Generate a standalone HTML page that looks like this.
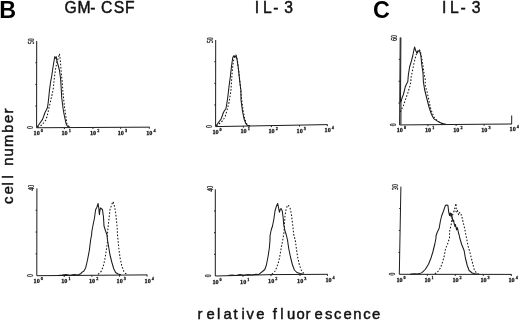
<!DOCTYPE html>
<html><head><meta charset="utf-8"><title>Figure</title>
<style>
html,body{margin:0;padding:0;background:#fff;}
body{width:520px;height:320px;overflow:hidden;position:relative;font-family:"Liberation Sans",sans-serif;color:#111;}
svg{position:absolute;left:0;top:0;display:block;}
.ax{stroke:#1c1c1c;stroke-width:1;fill:none;}
.so{stroke:#1a1a1a;stroke-width:1.05;fill:none;stroke-linejoin:round;}
.da{stroke:#1a1a1a;stroke-width:1.05;fill:none;stroke-dasharray:1.6 1.7;stroke-linejoin:round;}
.tk{font-family:"Liberation Serif",serif;font-weight:bold;font-size:7px;fill:#1a1a1a;stroke:#1a1a1a;stroke-width:0.3;}
.tr{font-weight:normal;stroke-width:0.3;}
.sup{font-size:4.8px;}
.ttl{font-family:"Liberation Sans",sans-serif;font-size:15.7px;fill:#111;stroke:#111;stroke-width:0.45;}
.lo{font-size:14.8px;}
.big{font-family:"Liberation Sans",sans-serif;font-size:23.3px;font-weight:bold;fill:#000;}
</style></head><body>
<svg width="520" height="320" viewBox="0 0 520 320">
<rect width="520" height="320" fill="#fff"/>

<text class="big" x="-0.8" y="17.6">B</text>
<text class="big" x="372.9" y="17.8">C</text>
<text class="ttl" x="64.6 77.4 90.3 95.5 100.9 113.7 125.0" y="12.9">GM- CSF</text>
<text class="ttl" x="254.7 262.9 273.3 279 284.3" y="13.1">IL- 3</text>
<text class="ttl" x="441.9 450.1 460.4 466 471.8" y="13.3">IL- 3</text>
<text class="ttl lo" transform="translate(12.7,203.4) rotate(-90)" x="-0.55 9.05 17.95 24.80 30.00 37.65 47.00 56.35 70.75 80.35 89.80">cell number</text>
<text class="ttl lo" y="318.8" x="197.5 206.6 217.0 223.5 233.5 241.5 246.5 256.2 265.0 272.8 280.3 287.0 296.4 305.4 314.5 325.1 333.9 343.4 353.2 363.3 372.1">relative fluorescence</text>
<g>
<path class="ax" d="M36.7,41.0 L36.6,127.75 L149.6,127.15"/>
<path class="ax" d="M149.29999999999998,127.15 L149.29999999999998,128.75"/>
<path class="ax" d="M35.38,62.69 L36.68,62.69" stroke-width="0.8"/>
<path class="ax" d="M35.35,84.38 L36.65,84.38" stroke-width="0.8"/>
<path class="ax" d="M35.33,106.06 L36.62,106.06" stroke-width="0.8"/>
<text class="tk" transform="translate(33.6,135.0) scale(0.88,1)">10<tspan class="sup" dx="1.2" dy="-3">0</tspan></text>
<path class="ax" d="M64.4,127.60 L64.4,129.10" stroke-width="0.8"/>
<text class="tk" transform="translate(61.5,134.9) scale(0.88,1)">10<tspan class="sup" dx="1.2" dy="-3">1</tspan></text>
<path class="ax" d="M92.9,127.45 L92.9,128.95" stroke-width="0.8"/>
<text class="tk" transform="translate(90.0,134.7) scale(0.88,1)">10<tspan class="sup" dx="1.2" dy="-3">2</tspan></text>
<path class="ax" d="M120.7,127.30 L120.7,128.80" stroke-width="0.8"/>
<text class="tk" transform="translate(117.8,134.6) scale(0.88,1)">10<tspan class="sup" dx="1.2" dy="-3">3</tspan></text>
<text class="tk" transform="translate(146.2,134.5) scale(0.88,1)">10<tspan class="sup" dx="1.2" dy="-3">4</tspan></text>
<text class="tk tr" transform="translate(33.7,44.0) rotate(-90) scale(0.8,1.08)">50</text>
<text class="tk tr" transform="translate(32.7,129.1) rotate(-90) scale(0.8,1.05)">0</text>
<polyline class="da" points="37.50,127.30 40.00,126.30 42.20,124.70 44.00,122.40 45.80,120.00 46.80,117.30 48.00,112.50 48.75,108.75 50.60,101.25 52.50,92.50 53.10,90.00 54.40,77.50 55.60,68.75 56.90,62.50 58.50,57.50 59.40,53.75 60.00,57.50 60.60,63.75 61.25,72.50 62.25,82.50 62.75,90.00 63.50,97.50 64.40,106.25 65.60,115.00 66.90,123.75 68.75,126.25 71.20,127.00"/>
<polyline class="so" points="36.90,127.40 38.60,125.00 40.50,122.20 42.50,119.40 43.60,116.50 45.00,112.50 46.30,110.00 47.50,107.50 48.20,102.50 48.75,97.50 49.50,90.00 50.60,82.00 51.90,75.00 52.80,68.50 53.75,62.50 54.80,56.60 55.60,58.30 56.30,56.80 56.90,61.25 58.10,65.00 59.40,70.00 60.60,78.75 61.00,85.00 61.30,90.00 61.70,97.50 63.10,108.75 64.00,114.00 65.00,118.75 66.25,124.40 67.50,126.25 69.50,127.20"/>
</g>
<g>
<path class="ax" d="M215.7,40.0 L215.6,126.6 L327.6,124.6"/>
<path class="ax" d="M327.3,124.6 L327.3,126.19999999999999"/>
<path class="ax" d="M214.37,61.65 L215.67,61.65" stroke-width="0.8"/>
<path class="ax" d="M214.35,83.30 L215.65,83.30" stroke-width="0.8"/>
<path class="ax" d="M214.32,104.95 L215.62,104.95" stroke-width="0.8"/>
<text class="tk" transform="translate(212.4,133.6) scale(0.88,1)">10<tspan class="sup" dx="1.2" dy="-3">0</tspan></text>
<path class="ax" d="M243.4,126.10 L243.4,127.60" stroke-width="0.8"/>
<text class="tk" transform="translate(240.5,133.3) scale(0.88,1)">10<tspan class="sup" dx="1.2" dy="-3">1</tspan></text>
<path class="ax" d="M271.4,125.60 L271.4,127.10" stroke-width="0.8"/>
<text class="tk" transform="translate(268.5,133.0) scale(0.88,1)">10<tspan class="sup" dx="1.2" dy="-3">2</tspan></text>
<path class="ax" d="M299.5,125.10 L299.5,126.60" stroke-width="0.8"/>
<text class="tk" transform="translate(296.6,132.6) scale(0.88,1)">10<tspan class="sup" dx="1.2" dy="-3">3</tspan></text>
<text class="tk" transform="translate(324.6,132.3) scale(0.88,1)">10<tspan class="sup" dx="1.2" dy="-3">4</tspan></text>
<text class="tk tr" transform="translate(212.7,43.0) rotate(-90) scale(0.8,1.08)">50</text>
<text class="tk tr" transform="translate(211.7,127.9) rotate(-90) scale(0.8,1.05)">0</text>
<polyline class="da" points="216.30,126.00 218.40,124.40 220.60,122.60 222.75,120.60 224.00,118.50 225.25,116.25 227.10,110.00 229.00,102.50 230.50,93.75 231.00,90.00 231.50,81.25 232.50,68.75 233.40,61.25 234.60,56.25 235.80,55.00 236.80,57.50 237.50,61.25 238.75,71.25 240.00,82.50 240.70,90.00 241.70,100.00 243.20,111.25 244.70,118.75 246.50,123.75 248.40,125.60 250.50,126.00"/>
<polyline class="so" points="215.90,126.20 218.40,122.50 220.90,119.40 222.20,116.00 223.40,112.50 224.70,110.30 225.90,108.75 226.90,103.00 227.75,97.50 228.60,90.00 229.40,83.50 230.25,77.50 231.50,66.25 232.75,57.50 234.00,55.60 235.00,57.30 236.20,55.80 237.10,60.00 238.40,68.75 239.60,80.00 240.20,85.00 240.90,90.00 241.00,100.00 242.50,111.25 244.00,118.75 245.90,123.75 247.75,125.60 250.00,126.00"/>
</g>
<g>
<path class="ax" d="M400.2,37.5 L399.6,124.95 L512.0,124.0"/>
<path class="ax" d="M511.7,124.0 L511.7,115.5"/>
<path class="ax" d="M400.9,37.5 L400.5,102.5"/>
<path class="ax" d="M398.75,59.36 L400.05,59.36" stroke-width="0.8"/>
<path class="ax" d="M398.60,81.22 L399.90,81.22" stroke-width="0.8"/>
<path class="ax" d="M398.45,103.09 L399.75,103.09" stroke-width="0.8"/>
<text class="tk" transform="translate(396.8,132.1) scale(0.88,1)">10<tspan class="sup" dx="1.2" dy="-3">0</tspan></text>
<path class="ax" d="M427.9,124.71 L427.9,126.21" stroke-width="0.8"/>
<text class="tk" transform="translate(425.0,131.9) scale(0.88,1)">10<tspan class="sup" dx="1.2" dy="-3">1</tspan></text>
<path class="ax" d="M456.1,124.47 L456.1,125.97" stroke-width="0.8"/>
<text class="tk" transform="translate(453.2,131.8) scale(0.88,1)">10<tspan class="sup" dx="1.2" dy="-3">2</tspan></text>
<path class="ax" d="M484.1,124.24 L484.1,125.74" stroke-width="0.8"/>
<text class="tk" transform="translate(481.2,131.6) scale(0.88,1)">10<tspan class="sup" dx="1.2" dy="-3">3</tspan></text>
<text class="tk" transform="translate(509.6,131.4) scale(0.88,1)">10<tspan class="sup" dx="1.2" dy="-3">4</tspan></text>
<text class="tk tr" transform="translate(397.2,40.8) rotate(-90) scale(0.8,1.08)">60</text>
<text class="tk tr" transform="translate(395.7,126.2) rotate(-90) scale(0.8,1.05)">0</text>
<polyline class="da" points="400.25,112.00 403.40,105.75 405.90,98.25 407.75,93.25 409.60,87.00 410.90,82.00 410.90,78.25 412.75,69.50 414.00,63.25 415.50,57.00 417.10,52.00 418.60,49.50 420.25,50.75 421.75,58.25 423.00,65.75 424.00,73.25 425.25,79.50 425.25,85.75 427.10,92.00 428.75,99.50 430.25,107.00 432.10,112.60 434.00,117.00 436.50,120.00 439.50,122.30 443.00,123.80 446.00,124.30"/>
<polyline class="so" points="400.90,124.50 400.95,102.00 402.00,98.00 403.40,94.50 404.40,90.50 405.25,87.00 406.50,84.00 407.75,82.00 408.10,78.00 408.40,74.50 409.60,67.00 411.50,60.75 412.75,55.75 414.00,49.50 414.60,47.00 415.60,50.50 417.10,53.25 418.40,51.00 419.60,50.75 420.90,55.75 421.75,64.50 423.00,73.25 423.40,82.00 424.60,89.50 426.75,98.25 429.00,107.00 431.50,114.50 434.00,118.90 437.75,121.40 441.00,123.00 445.00,124.30"/>
</g>
<g>
<path class="ax" d="M36.9,188.4 L36.8,275.7 L147.3,274.9"/>
<path class="ax" d="M147.0,274.9 L147.0,276.5"/>
<path class="ax" d="M35.58,210.22 L36.88,210.22" stroke-width="0.8"/>
<path class="ax" d="M35.55,232.05 L36.85,232.05" stroke-width="0.8"/>
<path class="ax" d="M35.52,253.88 L36.82,253.88" stroke-width="0.8"/>
<text class="tk" transform="translate(33.6,283.4) scale(0.88,1)">10<tspan class="sup" dx="1.2" dy="-3">0</tspan></text>
<path class="ax" d="M64.2,275.50 L64.2,277.00" stroke-width="0.8"/>
<text class="tk" transform="translate(61.3,283.3) scale(0.88,1)">10<tspan class="sup" dx="1.2" dy="-3">1</tspan></text>
<path class="ax" d="M91.9,275.30 L91.9,276.80" stroke-width="0.8"/>
<text class="tk" transform="translate(89.0,283.2) scale(0.88,1)">10<tspan class="sup" dx="1.2" dy="-3">2</tspan></text>
<path class="ax" d="M119.5,275.10 L119.5,276.60" stroke-width="0.8"/>
<text class="tk" transform="translate(116.6,283.1) scale(0.88,1)">10<tspan class="sup" dx="1.2" dy="-3">3</tspan></text>
<text class="tk" transform="translate(144.6,283.0) scale(0.88,1)">10<tspan class="sup" dx="1.2" dy="-3">4</tspan></text>
<text class="tk tr" transform="translate(33.9,190.6) rotate(-90) scale(0.8,1.08)">40</text>
<text class="tk tr" transform="translate(32.9,277.0) rotate(-90) scale(0.8,1.05)">0</text>
<polyline class="da" points="98.10,274.30 101.25,271.25 103.10,266.90 104.75,260.00 106.00,252.50 106.90,246.25 107.50,241.25 107.50,233.50 108.10,227.25 109.00,218.50 110.00,209.75 111.90,204.10 113.10,201.60 114.40,206.00 115.60,212.25 116.50,221.00 117.25,228.50 117.50,234.75 118.10,241.25 119.00,250.00 120.25,258.75 121.90,266.25 123.75,271.25 125.60,273.50 128.10,274.60"/>
<polyline class="so" points="58.00,275.40 62.00,275.00 66.00,274.50 70.00,275.20 74.00,274.40 78.00,275.00 80.60,273.75 82.50,271.90 83.75,271.25 85.60,268.10 87.50,260.00 89.40,250.00 90.60,240.00 91.60,234.75 91.90,231.00 93.10,224.75 94.40,218.50 95.60,209.75 96.90,207.25 98.10,203.50 98.80,208.00 99.40,214.75 100.00,210.00 100.60,207.90 102.50,209.75 103.50,217.25 104.00,226.00 105.60,231.00 106.90,234.75 107.50,240.00 108.75,247.50 110.00,255.00 111.90,262.50 113.75,268.75 115.60,272.50 118.10,274.00 121.00,274.80"/>
</g>
<g>
<path class="ax" d="M215.3,189.3 L215.3,276.0 L272,274.6 L327.7,274.3"/>
<path class="ax" d="M327.4,274.3 L327.4,275.90000000000003"/>
<path class="ax" d="M214.00,210.98 L215.30,210.98" stroke-width="0.8"/>
<path class="ax" d="M214.00,232.65 L215.30,232.65" stroke-width="0.8"/>
<path class="ax" d="M214.00,254.32 L215.30,254.32" stroke-width="0.8"/>
<text class="tk" transform="translate(212.4,283.9) scale(0.88,1)">10<tspan class="sup" dx="1.2" dy="-3">0</tspan></text>
<path class="ax" d="M243.0,275.32 L243.0,276.82" stroke-width="0.8"/>
<text class="tk" transform="translate(240.1,283.5) scale(0.88,1)">10<tspan class="sup" dx="1.2" dy="-3">1</tspan></text>
<path class="ax" d="M271.0,274.62 L271.0,276.12" stroke-width="0.8"/>
<text class="tk" transform="translate(268.1,283.0) scale(0.88,1)">10<tspan class="sup" dx="1.2" dy="-3">2</tspan></text>
<path class="ax" d="M300.0,274.45 L300.0,275.95" stroke-width="0.8"/>
<text class="tk" transform="translate(297.1,282.6) scale(0.88,1)">10<tspan class="sup" dx="1.2" dy="-3">3</tspan></text>
<text class="tk" transform="translate(325.4,282.1) scale(0.88,1)">10<tspan class="sup" dx="1.2" dy="-3">4</tspan></text>
<text class="tk tr" transform="translate(212.6,191.5) rotate(-90) scale(0.8,1.08)">40</text>
<text class="tk tr" transform="translate(211.4,277.3) rotate(-90) scale(0.8,1.05)">0</text>
<polyline class="da" points="271.90,274.30 275.00,271.25 276.90,266.90 278.75,261.25 280.00,255.00 281.25,247.50 282.75,240.00 284.00,232.25 284.40,224.75 285.00,216.00 286.00,209.75 287.25,206.00 288.10,205.00 290.00,207.90 291.25,213.50 292.25,221.00 293.10,228.50 293.75,234.75 295.25,240.00 296.25,247.50 297.50,256.25 299.40,265.00 301.25,270.00 303.10,272.75 305.00,274.20"/>
<polyline class="so" points="228.00,275.60 232.00,275.00 236.00,275.40 240.00,274.60 244.00,275.20 248.00,274.40 252.00,275.00 256.00,274.30 258.50,274.60 260.30,273.20 262.50,271.50 264.80,269.50 266.40,265.00 268.10,256.25 269.40,247.50 270.00,240.00 270.00,236.00 271.25,229.75 272.50,226.00 273.75,219.75 275.00,211.00 276.25,206.60 277.75,203.50 278.60,208.00 279.40,212.25 280.20,209.50 281.00,208.50 282.25,211.00 283.10,217.25 283.75,224.75 285.00,231.00 286.25,234.75 287.50,240.00 288.75,248.75 290.60,257.50 292.50,265.00 294.40,270.00 296.90,272.50 300.00,273.50 303.00,274.30"/>
</g>
<g>
<path class="ax" d="M400.9,186.6 L399.3,274.3 L511.6,274.4"/>
<path class="ax" d="M511.3,274.4 L511.3,276.0"/>
<path class="ax" d="M399.20,208.53 L400.50,208.53" stroke-width="0.8"/>
<path class="ax" d="M398.80,230.45 L400.10,230.45" stroke-width="0.8"/>
<path class="ax" d="M398.40,252.38 L399.70,252.38" stroke-width="0.8"/>
<text class="tk" transform="translate(396.4,281.6) scale(0.88,1)">10<tspan class="sup" dx="1.2" dy="-3">0</tspan></text>
<path class="ax" d="M427.3,274.32 L427.3,275.82" stroke-width="0.8"/>
<text class="tk" transform="translate(424.4,281.7) scale(0.88,1)">10<tspan class="sup" dx="1.2" dy="-3">1</tspan></text>
<path class="ax" d="M455.3,274.35 L455.3,275.85" stroke-width="0.8"/>
<text class="tk" transform="translate(452.4,281.8) scale(0.88,1)">10<tspan class="sup" dx="1.2" dy="-3">2</tspan></text>
<path class="ax" d="M483.3,274.37 L483.3,275.87" stroke-width="0.8"/>
<text class="tk" transform="translate(480.4,281.9) scale(0.88,1)">10<tspan class="sup" dx="1.2" dy="-3">3</tspan></text>
<text class="tk" transform="translate(508.5,282.0) scale(0.88,1)">10<tspan class="sup" dx="1.2" dy="-3">4</tspan></text>
<text class="tk tr" transform="translate(397.9,189.9) rotate(-90) scale(0.8,1.08)">30</text>
<text class="tk tr" transform="translate(395.4,275.6) rotate(-90) scale(0.8,1.05)">0</text>
<polyline class="da" points="434.75,273.80 437.25,272.40 440.40,268.00 442.25,263.00 444.10,256.75 445.40,249.25 447.90,243.00 449.50,238.00 449.50,234.75 449.75,229.75 451.00,226.00 451.60,221.00 452.25,216.00 454.10,211.00 455.75,204.10 456.00,203.50 456.25,208.50 455.80,211.00 456.60,212.25 457.50,210.50 458.50,214.75 459.50,212.50 460.50,215.00 461.60,214.75 462.00,217.00 462.50,219.75 464.10,226.00 465.40,232.25 466.00,236.00 466.60,238.00 467.90,245.50 469.75,251.75 471.60,259.25 472.90,264.25 474.10,269.25 476.00,272.40 478.00,273.80 480.00,274.30"/>
<polyline class="so" points="410.00,274.20 414.00,273.80 417.00,274.10 419.75,273.60 422.25,272.40 425.40,269.25 428.50,264.25 431.00,258.00 432.90,251.75 434.75,244.25 436.00,238.00 436.00,236.00 437.25,232.25 439.10,228.50 440.40,221.00 441.60,216.00 443.50,211.00 445.40,205.40 446.60,204.90 447.90,205.20 448.75,212.25 449.60,215.50 450.40,213.00 451.00,216.50 451.60,213.50 452.25,218.50 453.00,221.50 453.60,220.00 454.10,223.50 455.00,226.50 455.50,224.50 456.00,227.25 456.60,230.00 457.20,227.50 457.90,229.75 458.50,233.00 459.10,234.75 459.75,238.00 461.60,244.25 464.10,250.50 465.40,258.00 467.25,265.50 469.10,270.50 472.25,273.00 474.75,273.75 478.00,274.20"/>
</g>
</svg></body></html>
